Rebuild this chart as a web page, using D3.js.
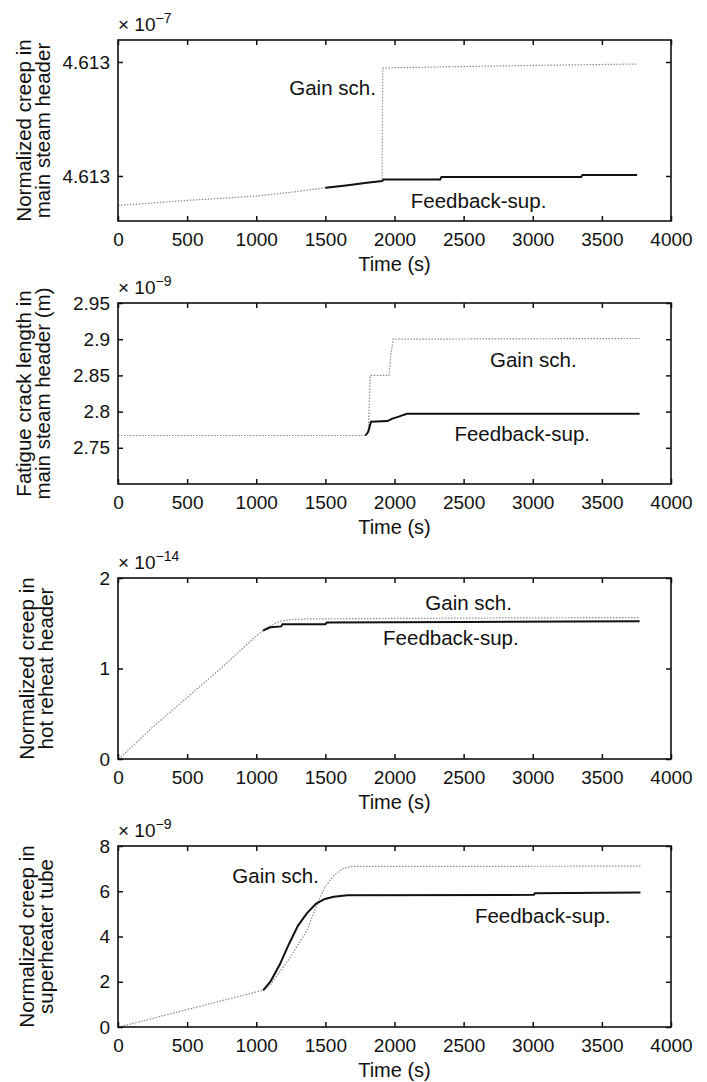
<!DOCTYPE html>
<html>
<head>
<meta charset="utf-8">
<script src="https://cdn.jsdelivr.net/npm/d3@7"></script>
<style>
  body { margin: 0; background: #fff; }
  svg text { font-family: "Liberation Sans", Arial, Helvetica, sans-serif; fill: #111; }
</style>
</head>
<body>
<div id="chart"></div>
<script>
const WIDTH = 707
const HEIGHT = 1082
const LEFT = 118, RIGHT = 671

// shared time axis
const timeTicks = [0, 500, 1000, 1500, 2000, 2500, 3000, 3500, 4000]

// panel 1: normalized creep in main steam header (x 1e-7)
const creepMainTicks = [4.61301, 4.61302]
const creepMainGain = [
    [0, 4.61300742], [250, 4.61300763], [500, 4.61300786], [750, 4.61300804],
    [1000, 4.61300824], [1250, 4.61300857], [1500, 4.61300896], [1650, 4.61300917],
    [1800, 4.61300940], [1910, 4.61300955], [1915, 4.61301946], [2000, 4.61301950],
    [2500, 4.61301960], [3000, 4.61301970], [3500, 4.61301978], [3755, 4.61301982]
]
const creepMainFeedback = [
    [1500, 4.61300896], [1650, 4.61300917], [1800, 4.61300940], [1910, 4.61300955],
    [1920, 4.61300969], [2330, 4.61300969], [2340, 4.61300991], [3350, 4.61300991],
    [3360, 4.61301009], [3755, 4.61301009]
]

// panel 2: fatigue crack length (x 1e-9 m)
const crackTicks = [2.75, 2.8, 2.85, 2.9, 2.95]
const crackGain = [
    [0, 2.767], [1790, 2.767], [1810, 2.772], [1825, 2.85], [1960, 2.85],
    [1975, 2.88], [1990, 2.9], [3773, 2.901]
]
const crackFeedback = [
    [1790, 2.767], [1810, 2.772], [1830, 2.786], [1950, 2.787], [1980, 2.79],
    [2030, 2.793], [2090, 2.797], [3773, 2.797]
]

// panel 3: normalized creep in hot reheat header (x 1e-14)
const reheatTicks = [0, 1, 2]
const reheatGain = [
    [20, 0.02], [250, 0.35], [500, 0.68], [750, 1.01], [1000, 1.36], [1050, 1.42],
    [1100, 1.47], [1170, 1.52], [1250, 1.54], [1366, 1.548], [2000, 1.553],
    [3000, 1.56], [3773, 1.563]
]
const reheatFeedback = [
    [1050, 1.42], [1100, 1.455], [1180, 1.465], [1190, 1.49], [1500, 1.49],
    [1510, 1.507], [2500, 1.515], [3773, 1.522]
]

// panel 4: normalized creep in superheater tube (x 1e-9)
const tubeTicks = [0, 2, 4, 6, 8]
const tubeGain = [
    [20, 0.02], [500, 0.77], [975, 1.51], [1050, 1.62], [1105, 1.88], [1236, 2.99],
    [1366, 4.25], [1431, 5.29], [1496, 6.18], [1561, 6.7], [1626, 7.0], [1691, 7.1],
    [2500, 7.1], [3779, 7.11]
]
const tubeFeedback = [
    [1050, 1.62], [1105, 2.03], [1171, 2.77], [1236, 3.66], [1301, 4.47], [1366, 5.02],
    [1431, 5.44], [1496, 5.66], [1561, 5.76], [1658, 5.82], [3008, 5.84], [3015, 5.91],
    [3779, 5.94]
]

const panels = [
    { top: 40, bottom: 221, domain: [4.61300605, 4.61302193], ticks: creepMainTicks,
      fmt: d3.format(".4"), exp: "−7", label: ["Normalized creep in", "main steam header"], labelX: 31,
      gain: creepMainGain, feedback: creepMainFeedback,
      gainPos: [0.388, 0.266], fbPos: [0.652, 0.886] },
    { top: 303, bottom: 484, domain: [2.7, 2.95], ticks: crackTicks,
      fmt: d3.format("~g"), exp: "−9", label: ["Fatigue crack length in", "main steam header (m)"], labelX: 31,
      gain: crackGain, feedback: crackFeedback,
      gainPos: [0.751, 0.313], fbPos: [0.731, 0.724] },
    { top: 578, bottom: 759, domain: [0, 2], ticks: reheatTicks,
      fmt: d3.format("d"), exp: "−14", label: ["Normalized creep in", "hot reheat header"], labelX: 34,
      gain: reheatGain, feedback: reheatFeedback,
      gainPos: [0.634, 0.139], fbPos: [0.602, 0.333] },
    { top: 846, bottom: 1027, domain: [0, 8], ticks: tubeTicks,
      fmt: d3.format("d"), exp: "−9", label: ["Normalized creep in", "superheater tube"], labelX: 34,
      gain: tubeGain, feedback: tubeFeedback,
      gainPos: [0.285, 0.163], fbPos: [0.768, 0.385] }
]

const svg = d3.select("#chart")
    .append("svg")
    .attr("width", WIDTH)
    .attr("height", HEIGHT)

const x = d3.scaleLinear().domain([0, 4000]).range([LEFT, RIGHT])

function draw_panel(p) {
    const y = d3.scaleLinear().domain(p.domain).range([p.bottom, p.top])
    const g = svg.append("g")
    const line = d3.line().x(d => x(d[0])).y(d => y(d[1]))

    g.append("path")
        .datum(p.gain)
        .attr("d", line)
        .attr("fill", "none")
        .attr("stroke", "#8c8c8c")
        .attr("stroke-width", 1.2)
        .attr("stroke-dasharray", "1.5,1.5")

    g.append("path")
        .datum(p.feedback)
        .attr("d", line)
        .attr("fill", "none")
        .attr("stroke", "#111")
        .attr("stroke-width", 2)

    // axes with inward ticks on all four sides
    const bottom = g.append("g")
        .attr("transform", `translate(0,${p.bottom})`)
        .call(d3.axisBottom(x).tickValues(timeTicks).tickSize(-5).tickSizeOuter(0)
            .tickPadding(12).tickFormat(d3.format("d")))
    const top = g.append("g")
        .attr("transform", `translate(0,${p.top})`)
        .call(d3.axisTop(x).tickValues(timeTicks).tickSize(-5).tickSizeOuter(0).tickFormat(""))
    const left = g.append("g")
        .attr("transform", `translate(${LEFT},0)`)
        .call(d3.axisLeft(y).tickValues(p.ticks).tickSize(-5).tickSizeOuter(0).tickPadding(8).tickFormat(p.fmt))
    const right = g.append("g")
        .attr("transform", `translate(${RIGHT},0)`)
        .call(d3.axisRight(y).tickValues(p.ticks).tickSize(-5).tickSizeOuter(0).tickFormat(""))

    for (const a of [bottom, top, left, right]) {
        a.select(".domain").remove()
        a.selectAll(".tick line").attr("stroke", "#111").attr("stroke-width", 1.5)
        a.selectAll(".tick text").attr("font-size", 19).attr("fill", "#111")
            .style("font-family", '"Liberation Sans", Arial, sans-serif')
    }

    g.append("rect")
        .attr("x", LEFT)
        .attr("y", p.top)
        .attr("width", RIGHT - LEFT)
        .attr("height", p.bottom - p.top)
        .attr("fill", "none")
        .attr("stroke", "#111")
        .attr("stroke-width", 1.6)

    // exponent
    const e = g.append("text")
        .attr("x", LEFT)
        .attr("y", p.top - 9)
        .attr("font-size", 19)
    e.append("tspan").text("× 10")
    e.append("tspan").attr("dy", -8).attr("font-size", 14).text(p.exp)

    // x label
    g.append("text")
        .attr("x", (LEFT + RIGHT) / 2)
        .attr("y", p.bottom + 50)
        .attr("text-anchor", "middle")
        .attr("font-size", 20)
        .text("Time (s)")

    // y label, two lines
    const cy = (p.top + p.bottom) / 2
    p.label.forEach((s, i) => {
        g.append("text")
            .attr("transform", `translate(${p.labelX + i * 19},${cy}) rotate(-90)`)
            .attr("text-anchor", "middle")
            .attr("font-size", 20.5)
            .text(s)
    })

    // series annotations
    const ann = [["Gain sch.", p.gainPos], ["Feedback-sup.", p.fbPos]]
    for (const [s, pos] of ann) {
        g.append("text")
            .attr("x", LEFT + pos[0] * (RIGHT - LEFT))
            .attr("y", p.top + pos[1] * (p.bottom - p.top))
            .attr("dy", "0.35em")
            .attr("text-anchor", "middle")
            .attr("font-size", 20.5)
            .text(s)
    }
}

panels.forEach(draw_panel)
</script>
</body>
</html>
